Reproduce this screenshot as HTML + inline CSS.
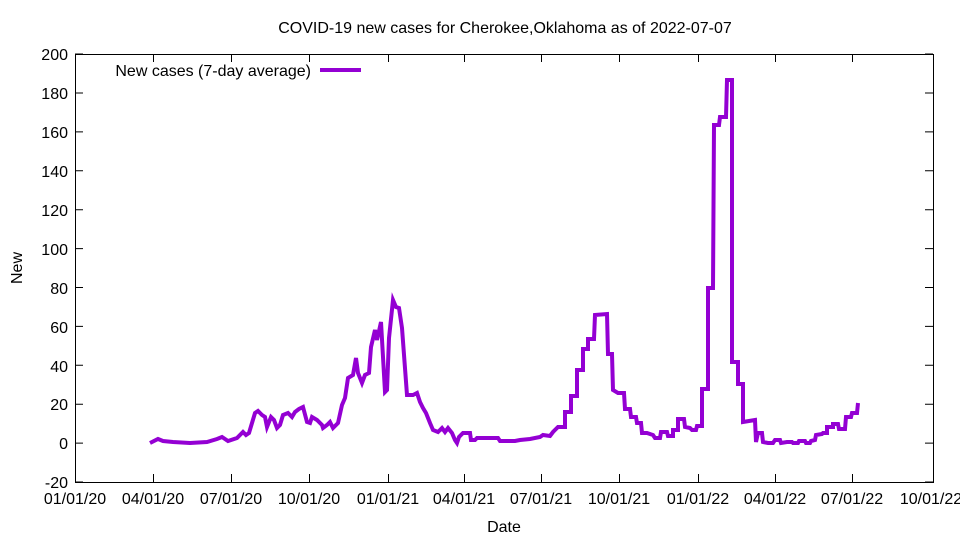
<!DOCTYPE html>
<html><head><meta charset="utf-8"><style>
body{margin:0;background:#fff;}
svg{display:block;font-family:"Liberation Sans",sans-serif;font-size:16px;}
</style></head><body>
<svg width="960" height="540" xmlns="http://www.w3.org/2000/svg">
<rect width="960" height="540" fill="#fff"/>
<text x="505" y="33" text-anchor="middle">COVID-19 new cases for Cherokee,Oklahoma as of 2022-07-07</text>
<g stroke="#000" stroke-width="1" fill="none">
<rect x="75.5" y="54.5" width="858" height="428"/>
<path d="M75 443.1h8M925 443.1h8 M75 404.2h8M925 404.2h8 M75 365.3h8M925 365.3h8 M75 326.4h8M925 326.4h8 M75 287.5h8M925 287.5h8 M75 248.6h8M925 248.6h8 M75 209.7h8M925 209.7h8 M75 170.8h8M925 170.8h8 M75 131.9h8M925 131.9h8 M75 93h8M925 93h8 M75 482h8M925 482h8 M75 54h8M925 54h8"/>
<path d="M153.5 482v-8M153.5 54v8 M231.5 482v-8M231.5 54v8 M309.5 482v-8M309.5 54v8 M388.5 482v-8M388.5 54v8 M464.5 482v-8M464.5 54v8 M541.5 482v-8M541.5 54v8 M619.5 482v-8M619.5 54v8 M698.5 482v-8M698.5 54v8 M775.5 482v-8M775.5 54v8 M852.5 482v-8M852.5 54v8"/>
</g>
<g text-anchor="end">
<text x="68" y="60">200</text><text x="68" y="99">180</text><text x="68" y="138">160</text><text x="68" y="177">140</text><text x="68" y="216">120</text><text x="68" y="255">100</text><text x="68" y="294">80</text><text x="68" y="333">60</text><text x="68" y="372">40</text><text x="68" y="410">20</text><text x="68" y="449">0</text><text x="68" y="488">-20</text>
</g>
<g text-anchor="middle">
<text x="75" y="504">01/01/20</text><text x="153" y="504">04/01/20</text><text x="231" y="504">07/01/20</text><text x="309" y="504">10/01/20</text><text x="388" y="504">01/01/21</text><text x="464" y="504">04/01/21</text><text x="541" y="504">07/01/21</text><text x="619" y="504">10/01/21</text><text x="698" y="504">01/01/22</text><text x="775" y="504">04/01/22</text><text x="852" y="504">07/01/22</text><text x="931" y="504">10/01/22</text>
<text x="504" y="532">Date</text>
</g>
<text transform="translate(22,268) rotate(-90)" text-anchor="middle">New</text>
<text x="311" y="76" text-anchor="end">New cases (7-day average)</text>
<line x1="320" y1="70" x2="361" y2="70" stroke="#9400d3" stroke-width="4"/>
<polyline fill="none" stroke="#9400d3" stroke-width="4" stroke-linejoin="miter" points="150,443 158,439 163,441 173,442 190,443 207,442 217,439 222,437 228,441 237,438 243,432 246,435 249,433 255,413 258,411 262,415 265,417 267,427 271,417 274,420 277,428 280,425 283,415 288,413 292,417 295,412 299,409 303,407 307,422 310,423 312,417 317,420 322,425 323,428 327,425 330,422 333,428 338,423 342,405 345,398 348,378 353,375 356,358 358,373 362,383 365,375 369,373 371,347 375,330 377,340 381,322 385,392 387,390 389,338 393,300 396,307 399,308 402,328 407,395 413,395 417,393 420,402 423,408 426,413 430,423 433,430 438,432 442,428 445,432 448,428 452,433 455,440 457,443 459,437 463,433 470,433 471,440 475,440 477,438 498,438 500,441 515,441 520,440 530,439 540,437 543,435 550,436 553,432 558,427 565,427 565,412 571,412 571,396 577,396 577,370 583,370 583,349 588,349 588,339 594,339 595,315 607,314 608,354 612,354 613,390 618,393 624,393 625,409 630,409 631,417 636,417 637,423 641,423 642,433 647,433 653,435 655,438 660,438 661,432 667,432 668,436 673,436 673,430 678,430 678,419 684,419 685,427 690,428 692,430 696,430 697,426 702,426 702,389 708,389 708,288 713,288 714,125 719,125 720,117 726,117 727,80 732,80 732,362 738,362 738,384 743,384 743,422 755,420 756,442 758,433 762,433 763,442 768,443 773,443 775,440 780,440 781,443 787,442 792,442 793,443 798,443 799,441 805,441 806,443 810,443 811,441 815,440 816,435 822,434 823,433 827,433 827,427 833,427 833,424 838,424 839,429 845,429 846,417 851,417 852,413 857,413 858,403"/>
</svg>
</body></html>
